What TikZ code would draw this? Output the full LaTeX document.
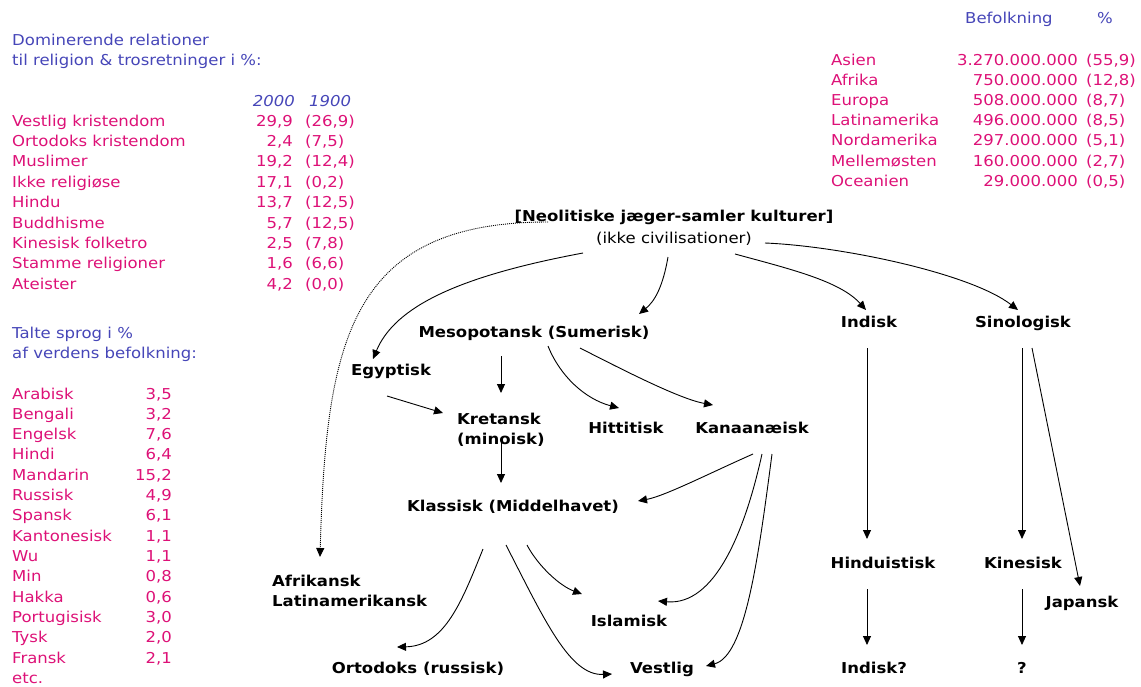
\documentclass[tikz,border=0pt]{standalone}
\usepackage{fontspec}
\setmainfont{DejaVu Sans}[FakeStretch=1.1]
\usepackage{tikz}
\usetikzlibrary{arrows.meta,calc}

\definecolor{titleblue}{RGB}{70,70,184}
\definecolor{datapink}{RGB}{221,17,119}

\newcommand{\basefont}{\fontsize{15}{20}\selectfont}

\tikzset{
  head/.style={font=\basefont, text=titleblue, anchor=base west, inner sep=0pt},
  datal/.style={font=\basefont, text=datapink, anchor=base west, inner sep=0pt},
  datar/.style={font=\basefont, text=datapink, anchor=base east, inner sep=0pt},
  kult/.style={font=\basefont\bfseries, text height=11pt, text depth=3pt, inner sep=2pt},
  kulttwo/.style={font=\basefont\bfseries, align=left, inner sep=2pt, anchor=west},
  link/.style={->, line width=0.9pt},
}

\begin{document}
\begin{tikzpicture}[x=1pt,y=-1pt,>={Triangle[length=9pt,width=8pt]}]
\useasboundingbox (0,0) rectangle (1141,686);

% religion table
\node[head] (reltitle) at (12,45) {Dominerende relationer};
\node[head] (reltitleb) at (12,65) {til religion \& trosretninger i \%:};
\node[head, anchor=base east, font=\basefont\itshape] (yrnew) at (295,106) {2000};
\node[head, font=\basefont\itshape] (yrold) at (309,106) {1900};
\foreach \rname/\rnew/\rold [count=\i from 0] in {Vestlig kristendom/{29,9}/{(26,9)},
  Ortodoks kristendom/{2,4}/{(7,5)}, Muslimer/{19,2}/{(12,4)}, Ikke religiøse/{17,1}/{(0,2)},
  Hindu/{13,7}/{(12,5)}, Buddhisme/{5,7}/{(12,5)}, Kinesisk folketro/{2,5}/{(7,8)},
  Stamme religioner/{1,6}/{(6,6)}, Ateister/{4,2}/{(0,0)}}
{
  \node[datal] (rel\i) at (12,{126+20.4*\i}) {\rname};
  \node[datar] (relnew\i) at (293,{126+20.4*\i}) {\rnew};
  \node[datal] (relold\i) at (305,{126+20.4*\i}) {\rold};
}

% languages
\node[head] (langtitle) at (12,338) {Talte sprog i \%};
\node[head] (langtitleb) at (12,358) {af verdens befolkning:};
\foreach \lname/\lval [count=\i from 0] in {Arabisk/{3,5}, Bengali/{3,2}, Engelsk/{7,6},
  Hindi/{6,4}, Mandarin/{15,2}, Russisk/{4,9}, Spansk/{6,1}, Kantonesisk/{1,1}, Wu/{1,1},
  Min/{0,8}, Hakka/{0,6}, Portugisisk/{3,0}, Tysk/{2,0}, Fransk/{2,1}}
{
  \node[datal] (lang\i) at (12,{399+20.33*\i}) {\lname};
  \node[datar] (langval\i) at (172,{399+20.33*\i}) {\lval};
}
\node[datal] (langetc) at (12,683.6) {etc.};

% population
\node[head] (poptitle) at (965,23) {Befolkning};
\node[head] (pcttitle) at (1097,23) {\%};
\foreach \cname/\cpop/\cpct [count=\i from 0] in {Asien/3.270.000.000/{(55,9)},
  Afrika/750.000.000/{(12,8)}, Europa/508.000.000/{(8,7)}, Latinamerika/496.000.000/{(8,5)},
  Nordamerika/297.000.000/{(5,1)}, Mellemøsten/160.000.000/{(2,7)}, Oceanien/29.000.000/{(0,5)}}
{
  \node[datal] (cont\i) at (831,{65+20.2*\i}) {\cname};
  \node[datar] (contpop\i) at (1078,{65+20.2*\i}) {\cpop};
  \node[datal] (contpct\i) at (1086,{65+20.2*\i}) {\cpct};
}

% cultures
\node[kult] (neo) at (674,217) {[Neolitiske jæger-samler kulturer]};
\node[kult, font=\basefont] (neosub) at (674,239) {(ikke civilisationer)};
\node[kult] (meso) at (534,333) {Mesopotansk (Sumerisk)};
\node[kult] (egypt) at (391,371) {Egyptisk};
\node[kulttwo] (kreta) at (455,430) {Kretansk\\(minoisk)};
\node[kult] (hitt) at (626,429) {Hittitisk};
\node[kult] (kanaan) at (752,429) {Kanaanæisk};
\node[kult] (klass) at (513,507) {Klassisk (Middelhavet)};
\node[kulttwo] (afrik) at (270,591) {Afrikansk\\Latinamerikansk};
\node[kult] (islam) at (629,622) {Islamisk};
\node[kult] (ortod) at (418,669) {Ortodoks (russisk)};
\node[kult] (vest) at (662,669) {Vestlig};
\node[kult] (indisk) at (869,323) {Indisk};
\node[kult] (sino) at (1023,323) {Sinologisk};
\node[kult] (hindu) at (883,564) {Hinduistisk};
\node[kult] (kines) at (1023,564) {Kinesisk};
\node[kult] (japan) at (1082,603) {Japansk};
\node[kult] (indq) at (874,669) {Indisk?};
\node[kult] (qmark) at (1022,669) {?};

% links
\draw[link, line width=0.9pt, dash pattern=on 1pt off 1pt] ($(neo)+(-126,5)$) .. controls +(-198,0) and +(6,-217) .. ($(afrik.west)+(50,-34)$);
\draw[link] ($(neosub)+(-91,14)$) .. controls +(-123,23) and +(22,-53) .. ($(egypt)+(-18,-12)$);
\draw[link] ($(neosub)+(-6,18)$) .. controls +(-5,29) and +(16,-13) .. ($(meso)+(105,-19)$);
\draw[link] ($(neosub)+(61,15)$) .. controls +(55,15) and +(-26,-29) .. ($(indisk)+(-3,-13)$);
\draw[link] ($(neosub)+(91,4)$) .. controls +(75,3) and +(-48,-37) .. ($(sino)+(-5,-13)$);
\draw[link] ($(meso)+(-33,23)$) -- ($(kreta.west)+(46,-37)$);
\draw[link] ($(meso)+(14,13)$) .. controls +(12,30) and +(-34,-9) .. ($(hitt)+(-7,-21)$);
\draw[link] ($(meso)+(46,15)$) .. controls +(45,23) and +(-33,-6) .. ($(kanaan)+(-39,-24)$);
\draw[link] ($(egypt)+(-4,25)$) -- ($(kreta.west)+(-12,-17)$);
\draw[link] ($(kreta.west)+(46,12)$) -- ($(klass)+(-12,-24)$);
\draw[link] ($(kanaan)+(1,25)$) .. controls +(-43,19) and +(27,-5) .. ($(klass)+(125,-6)$);
\draw[link] ($(kanaan)+(10,25)$) .. controls +(-17,77) and +(57,5) .. ($(islam)+(29,-21)$);
\draw[link] ($(kanaan)+(20,25)$) .. controls +(-14,107) and +(39,-10) .. ($(vest)+(44,-3)$);
\draw[link] ($(klass)+(-30,42)$) .. controls +(-21,52) and +(48,-1) .. ($(ortod)+(-21,-22)$);
\draw[link] ($(klass)+(-7,38)$) .. controls +(39,76) and +(-42,2) .. ($(vest)+(-50,5)$);
\draw[link] ($(klass)+(14,38)$) .. controls +(11,21) and +(-22,-8) .. ($(islam)+(-47,-28)$);
\draw[link] ($(indisk)+(-2,25)$) -- ($(hindu)+(-16,-25)$);
\draw[link] ($(sino)+(-1,25)$) -- ($(kines)+(-1,-25)$);
\draw[link] ($(sino)+(9,25)$) -- ($(japan)+(-2,-17)$);
\draw[link] ($(hindu)+(-16,25)$) -- ($(indq)+(-7,-24)$);
\draw[link] ($(kines)+(-1,25)$) -- ($(qmark)+(0,-24)$);

\end{tikzpicture}
\end{document}
